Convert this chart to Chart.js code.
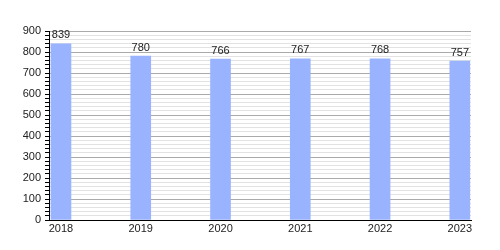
<!DOCTYPE html>
<html>
<head>
<meta charset="utf-8">
<script src="https://cdn.jsdelivr.net/npm/chart.js@4"></script>
<style>
  html, body { margin: 0; padding: 0; background: #fff; }
  #wrap { width: 500px; height: 250px; position: relative; }
</style>
</head>
<body>
<div id="wrap"><canvas id="chart"></canvas></div>
<script>
// data
const years = [2018, 2019, 2020, 2021, 2022, 2023];
const values = [839, 780, 766, 767, 768, 757];
const yTicks = [0, 100, 200, 300, 400, 500, 600, 700, 800, 900];

// labels above each bar
const barLabels = {
  id: 'barLabels',
  afterDatasetsDraw(chart) {
    const ctx = chart.ctx;
    const meta = chart.getDatasetMeta(0);
    ctx.save();
    ctx.font = '11px "Liberation Sans", Arial, sans-serif';
    ctx.fillStyle = '#222';
    ctx.textAlign = 'center';
    ctx.textBaseline = 'bottom';
    meta.data.forEach((bar, i) => {
      ctx.fillText(String(values[i]), bar.x, bar.y - 3);
    });
    ctx.restore();
  }
};

document.addEventListener("DOMContentLoaded", function (event) {
  const points = years.map((y, i) => ({x: y, y: values[i]}));

  new Chart(document.querySelector('#chart'), {
    type: 'bar',
    data: {
      datasets: [{
        data: points,
        backgroundColor: '#99b3ff',
        borderWidth: 0,
        barThickness: 20,
        clip: false
      }]
    },
    options: {
      responsive: true,
      maintainAspectRatio: false,
      animation: false,
      layout: { padding: { top: 31, right: 29, left: 0, bottom: 0 } },
      plugins: { legend: { display: false }, tooltip: { enabled: false } },
      scales: {
        x: {
          type: 'linear',
          offset: false,
          min: 2017.85,
          max: 2023.14,
          afterFit(scale) { scale.height = 30; },
          afterBuildTicks(scale) { scale.ticks = years.map(v => ({value: v})); },
          border: { color: '#000', width: 1 },
          grid: { display: false, drawTicks: false, offset: false },
          ticks: {
            padding: 2,
            color: '#222',
            font: { family: '"Liberation Sans", Arial, sans-serif', size: 11 },
            maxRotation: 0,
            autoSkip: false,
            callback: v => String(v)
          }
        },
        y: {
          min: 0,
          max: 900,
          afterFit(scale) { scale.width = 49; },
          border: { color: '#000', width: 1 },
          grid: {
            color: c => (c.tick && c.tick.value % 100 === 0) ? '#aaa' : '#e2e2e2',
            tickColor: '#000',
            tickLength: 4,
            drawTicks: true
          },
          ticks: {
            stepSize: 20,
            autoSkip: false,
            padding: 4,
            color: '#222',
            font: { family: '"Liberation Sans", Arial, sans-serif', size: 11 },
            callback: v => yTicks.includes(v) ? String(v) : ''
          }
        }
      }
    },
    plugins: [barLabels]
  });
});
</script>
</body>
</html>
